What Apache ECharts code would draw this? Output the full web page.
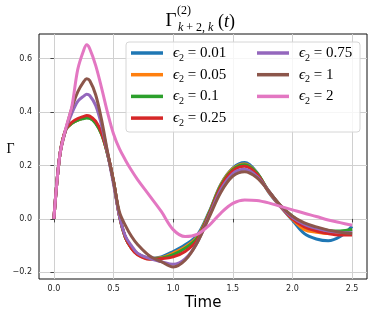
<!DOCTYPE html>
<html><head><meta charset="utf-8">
<script src="https://cdn.jsdelivr.net/npm/echarts@6/dist/echarts.min.js"></script>
<style>html,body{margin:0;padding:0;background:#fff}#c{width:374px;height:318px}</style>
</head><body><div id="c"></div>
<script>
const times = [0,0.05,0.1,0.15,0.2,0.25,0.275,0.3,0.35,0.4,0.45,0.5,0.55,0.6,0.65,0.7,0.8,0.9,1.0,1.1,1.2,1.3,1.4,1.5,1.6,1.7,1.8,1.9,2.0,2.1,2.2,2.3,2.4,2.5];
const epsLabels = ['0.01','0.05','0.1','0.25','0.75','1','2'];
const colors = ['#1f77b4','#ff7f0e','#2ca02c','#d62728','#9467bd','#8c564b','#e377c2'];
const eps001 = [0,0.24,0.335,0.358,0.37,0.378,0.38,0.379,0.36,0.318,0.243,0.14,0.01,-0.07,-0.108,-0.13,-0.147,-0.142,-0.122,-0.097,-0.062,0.025,0.13,0.19,0.211,0.175,0.1,0.045,-0.005,-0.055,-0.075,-0.082,-0.066,-0.028];
const eps005 = [0,0.24,0.335,0.358,0.37,0.378,0.38,0.379,0.36,0.318,0.243,0.14,0.01,-0.07,-0.108,-0.131,-0.148,-0.145,-0.128,-0.105,-0.068,0.022,0.128,0.188,0.206,0.173,0.102,0.047,-0.002,-0.04,-0.05,-0.055,-0.055,-0.054];
const eps01 = [0,0.24,0.335,0.358,0.37,0.376,0.378,0.377,0.358,0.316,0.242,0.14,0.01,-0.07,-0.109,-0.132,-0.149,-0.147,-0.134,-0.11,-0.072,0.02,0.125,0.185,0.203,0.173,0.105,0.05,0.01,-0.02,-0.035,-0.043,-0.045,-0.04];
const eps025 = [0,0.24,0.336,0.362,0.376,0.384,0.387,0.385,0.366,0.322,0.245,0.14,0.01,-0.07,-0.11,-0.134,-0.151,-0.149,-0.142,-0.122,-0.08,0.015,0.12,0.18,0.197,0.168,0.104,0.048,0.0,-0.03,-0.045,-0.055,-0.06,-0.06];
const eps075 = [0,0.24,0.335,0.395,0.44,0.46,0.467,0.462,0.425,0.35,0.245,0.13,0.01,-0.065,-0.1,-0.128,-0.148,-0.16,-0.17,-0.15,-0.09,0.01,0.11,0.17,0.186,0.16,0.105,0.048,0.005,-0.02,-0.035,-0.045,-0.05,-0.052];
const eps1 = [0,0.24,0.335,0.415,0.476,0.514,0.525,0.518,0.465,0.37,0.25,0.14,0.025,-0.025,-0.065,-0.095,-0.138,-0.16,-0.18,-0.155,-0.09,0.005,0.1,0.16,0.177,0.155,0.105,0.05,0.01,-0.015,-0.03,-0.042,-0.05,-0.055];
const eps2 = [0,0.24,0.34,0.42,0.56,0.632,0.652,0.638,0.575,0.49,0.398,0.318,0.262,0.22,0.182,0.148,0.088,0.028,-0.04,-0.066,-0.058,-0.025,0.022,0.058,0.071,0.069,0.06,0.047,0.034,0.021,0.009,-0.004,-0.014,-0.024];
const xTicks = [0,0.5,1.0,1.5,2.0,2.5];
const yTicks = [-0.2,0,0.2,0.4,0.6];
const allValues = [eps001,eps005,eps01,eps025,eps075,eps1,eps2];

const names = epsLabels.map(l => 'ϵ2 = ' + l);
const series = allValues.map((vals, i) => ({
  name: names[i], type: 'line', symbol: 'none', smooth: 0.35,
  data: times.map((t, k) => [t, vals[k]]),
  lineStyle: { width: 3, color: colors[i] }, itemStyle: { color: colors[i] },
  z: 2
}));
const serif = 'Liberation Serif';
const legRich = {
  e: { fontFamily: serif, fontStyle: 'italic', fontSize: 15, color: '#000' },
  s: { fontFamily: serif, fontSize: 10, color: '#000', verticalAlign: 'bottom', lineHeight: 8 },
  t: { fontFamily: serif, fontSize: 15, color: '#000' }
};
const legFmt = n => '{e|ϵ}{s|2}{t| = ' + n.split('= ')[1] + '}';
function leg(data, left) {
  return { data, left, top: 43, orient: 'vertical', padding: 0, itemGap: 1.7,
    itemWidth: 32, itemHeight: 3.5, icon: 'rect', formatter: legFmt,
    textStyle: { rich: legRich, lineHeight: 20, padding: [0,0,0,5] }, z: 5 };
}
const chart = echarts.init(document.getElementById('c'), null, { renderer: 'canvas' });
chart.setOption({
  animation: false,
  backgroundColor: '#fff',
  grid: { left: 39, right: 7, top: 34, bottom: 39, show: true, borderColor: '#111', borderWidth: 1, backgroundColor: 'transparent' },
  xAxis: { type: 'value', min: -0.125, max: 2.625,
    axisLine: { show: false },
    axisTick: { show: true, length: 3.5, lineStyle: { color: '#222', width: 0.8 }, customValues: xTicks },
    axisLabel: { customValues: xTicks, formatter: v => v.toFixed(1), fontFamily: 'DejaVu Sans', fontSize: 8, color: '#222', margin: 6 },
    splitLine: { show: true, lineStyle: { color: '#d0d0d0', width: 1 } } },
  yAxis: { type: 'value', min: -0.225, max: 0.6925,
    axisLine: { show: false },
    axisTick: { show: true, length: 3.5, lineStyle: { color: '#222', width: 0.8 }, customValues: yTicks },
    axisLabel: { customValues: yTicks, formatter: v => (v < 0 ? '−' : '') + Math.abs(v).toFixed(1), fontFamily: 'DejaVu Sans', fontSize: 8, color: '#222', margin: 7 },
    splitLine: { show: true, lineStyle: { color: '#d0d0d0', width: 1 } } },
  legend: [leg(names.slice(0,4), 131), leg(names.slice(4), 257)],
  graphic: [
    { type: 'rect', shape: { x: 126, y: 42, width: 234, height: 90, r: 3 }, z: 3,
      style: { fill: 'rgba(255,255,255,0.8)', stroke: '#d6d6d6', lineWidth: 1 } },
    { type: 'text', x: 171, y: 21, z: 10, style: { text: 'Γ', font: '19px "Liberation Serif"', fill: '#000', align: 'center', verticalAlign: 'middle' } },
    { type: 'text', x: 177, y: 11, z: 10, style: { text: '(2)', font: '12px "Liberation Serif"', fill: '#000', align: 'left', verticalAlign: 'middle' } },
    { type: 'text', x: 178, y: 28, z: 10, style: { text: '{i|k} + 2, {i|k}', font: '12px "Liberation Serif"', fill: '#000', align: 'left', verticalAlign: 'middle',
        rich: { i: { fontFamily: serif, fontStyle: 'italic', fontSize: 12 } } } },
    { type: 'text', x: 218, y: 22, z: 10, style: { text: '({i|t})', font: '18px "Liberation Serif"', fill: '#000', align: 'left', verticalAlign: 'middle',
        rich: { i: { fontFamily: serif, fontStyle: 'italic', fontSize: 18 } } } },
    { type: 'text', x: 10.5, y: 149.5, z: 10, style: { text: 'Γ', font: '14px "Liberation Serif"', fill: '#000', align: 'center', verticalAlign: 'middle' } },
    { type: 'text', x: 203, y: 303, z: 10, style: { text: 'Time', font: '15px "DejaVu Sans"', fill: '#000', align: 'center', verticalAlign: 'middle' } }
  ],
  series
});
</script></body></html>
